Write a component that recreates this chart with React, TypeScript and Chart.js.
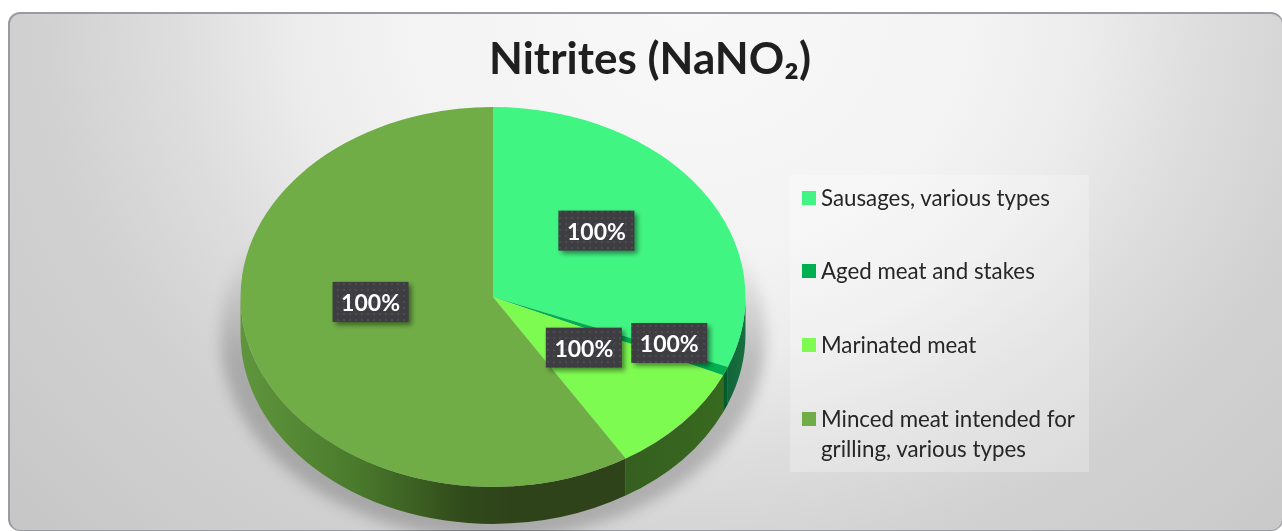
import React, { useEffect, useRef } from "react";
import { Chart, registerables } from "chart.js";

Chart.register(...registerables);

const titleText = "Nitrites (NaNO₂)";
const categories = [
  "Sausages, various types",
  "Aged meat and stakes",
  "Marinated meat",
  "Minced meat intended for grilling, various types",
];
const values = [31, 0.75, 9.45, 58.8];
const sliceLabels = ["100%", "100%", "100%", "100%"];
const sliceColors = ["#41f583", "#00b050", "#7efb50", "#70ad47"];

const PIE_CX = 493;
const PIE_CY = 297;
const RADIUS = 252.5;
const SQUASH = 0.752;
const DEPTH = 37;
const labelNudges = [[-1, -13], [60, 9], [-4, -12], [-1, -21]];

type Stop = [number, string];
const wallStops: Stop[][] = [
  [[0, "#17703f"], [1, "#12663a"]],
  [[0, "#00592b"], [1, "#005f2e"]],
  [[0, "#38691f"], [1, "#355f1f"]],
  [[0, "#2f431b"], [0.3, "#2f431b"], [0.42, "#304a1a"], [0.7, "#4a7a2c"], [1, "#5f963c"]],
];

function labelPattern(ctx: CanvasRenderingContext2D) {
  const c = document.createElement("canvas");
  c.width = 6;
  c.height = 6;
  const g = c.getContext("2d")!;
  g.fillStyle = "#3d3d42";
  g.fillRect(0, 0, 6, 6);
  g.fillStyle = "#4b4b50";
  g.fillRect(1, 1, 2, 2);
  return ctx.createPattern(c, "repeat")!;
}

const pie3d = {
  id: "pie3d",
  beforeDatasetsDraw(chart: any) {
    const ctx: CanvasRenderingContext2D = chart.ctx;
    const arcs = chart.getDatasetMeta(0).data;
    const ry = RADIUS * SQUASH;

    // soft cast shadow
    ctx.save();
    ctx.filter = "blur(7px)";
    const sg = ctx.createLinearGradient(0, 240, 0, 360);
    sg.addColorStop(0, "rgba(0,0,0,0)");
    sg.addColorStop(1, "rgba(0,0,0,0.2)");
    ctx.fillStyle = sg;
    ctx.beginPath();
    ctx.ellipse(PIE_CX, PIE_CY + 40, RADIUS + 20, ry + 12, 0, 0, Math.PI * 2);
    ctx.fill();
    ctx.restore();

    // extruded wall, lower half of every slice
    arcs.forEach((arc: any, i: number) => {
      const a0 = Math.max(arc.startAngle, 0);
      const a1 = Math.min(arc.endAngle, Math.PI);
      if (a1 <= a0) return;
      const x0 = PIE_CX + RADIUS * Math.cos(a0);
      const x1 = PIE_CX + RADIUS * Math.cos(a1);
      const g = ctx.createLinearGradient(x0, 0, x1, 0);
      wallStops[i].forEach(([o, c]) => g.addColorStop(o, c));
      ctx.fillStyle = g;
      ctx.beginPath();
      ctx.ellipse(PIE_CX, PIE_CY, RADIUS, ry, 0, a0, a1);
      ctx.ellipse(PIE_CX, PIE_CY + DEPTH, RADIUS, ry, 0, a1, a0, true);
      ctx.closePath();
      ctx.fill();
    });

    // flat top: Chart.js arcs drawn through an elliptical transform
    const first = arcs[0];
    ctx.save();
    ctx.translate(PIE_CX, PIE_CY);
    ctx.scale(1, SQUASH);
    ctx.translate(-first.x, -first.y);
  },
  afterDatasetsDraw(chart: any) {
    const ctx: CanvasRenderingContext2D = chart.ctx;
    ctx.restore();
    const arcs = chart.getDatasetMeta(0).data;
    const pat = labelPattern(ctx);
    arcs.forEach((arc: any, i: number) => {
      const mid = (arc.startAngle + arc.endAngle) / 2;
      const x = PIE_CX + Math.cos(mid) * RADIUS * 0.5 + labelNudges[i][0];
      const y = PIE_CY + Math.sin(mid) * RADIUS * 0.5 * SQUASH + labelNudges[i][1];
      const w = 76;
      const h = 40;
      ctx.save();
      ctx.shadowColor = "rgba(0,0,0,0.45)";
      ctx.shadowBlur = 5;
      ctx.shadowOffsetX = 3;
      ctx.shadowOffsetY = 3;
      ctx.fillStyle = pat;
      ctx.fillRect(x - w / 2, y - h / 2, w, h);
      ctx.restore();
      ctx.fillStyle = "#ffffff";
      ctx.font = "bold 23px Lato";
      ctx.textAlign = "center";
      ctx.textBaseline = "middle";
      ctx.fillText(sliceLabels[i], x, y + 1.5);
    });
  },
};

export default function App() {
  const ref = useRef<HTMLCanvasElement>(null);
  useEffect(() => {
    const chart = new Chart(ref.current!, {
      type: "pie",
      data: {
        labels: categories,
        datasets: [
          {
            data: values,
            backgroundColor: sliceColors,
            borderWidth: 0,
            radius: RADIUS,
            clip: false,
          } as any,
        ],
      },
      options: {
        responsive: false,
        animation: false,
        events: [],
        layout: { padding: { left: 18, right: 0, top: 0, bottom: 0 } },
        plugins: {
          legend: { display: false },
          tooltip: { enabled: false },
          title: {
            display: true,
            text: titleText,
            color: "#1f1f1f",
            font: { family: "Lato", weight: "bold", size: 44 },
            padding: { top: 33, bottom: 10 },
          },
        },
      },
      plugins: [pie3d],
    } as any);
    return () => chart.destroy();
  }, []);

  return (
    <div style={{ position: "fixed", inset: 0, overflow: "hidden", background: "#fff" }}>
      <div
        style={{
          position: "absolute",
          left: 8,
          top: 12,
          width: 1272,
          height: 516,
          borderRadius: 12,
          border: "2px solid #9a9ba0",
          borderRightWidth: 1,
          borderBottomWidth: 1,
          background:
            "radial-gradient(ellipse 720px 620px at 680px 0px, #f8f8f8 0%, #f3f3f3 40%, #ececec 55%, #dddddd 72%, #d1d1d1 90%, #cdcdcd 105%, #c6c6c6 125%)",
        }}
      />
      <canvas
        ref={ref}
        width={1282}
        height={531}
        style={{ position: "absolute", left: 0, top: 0, width: 1282, height: 531 }}
      />
      <div
        style={{
          position: "absolute",
          left: 790,
          top: 175,
          width: 299,
          height: 297,
          background: "rgba(255,255,255,0.25)",
          fontFamily: "Lato",
          fontSize: 22.3,
          lineHeight: "30px",
          color: "#262626",
        }}
      >
        {categories.map((c, i) => (
          <div
            key={c}
            style={{ position: "absolute", left: 12, top: 7.5 + i * 73.7, width: 280, display: "flex" }}
          >
            <span
              style={{
                width: 14,
                height: 14,
                marginTop: 8,
                marginRight: 5,
                flex: "none",
                background: sliceColors[i],
              }}
            />
            <span>{c}</span>
          </div>
        ))}
      </div>
    </div>
  );
}
